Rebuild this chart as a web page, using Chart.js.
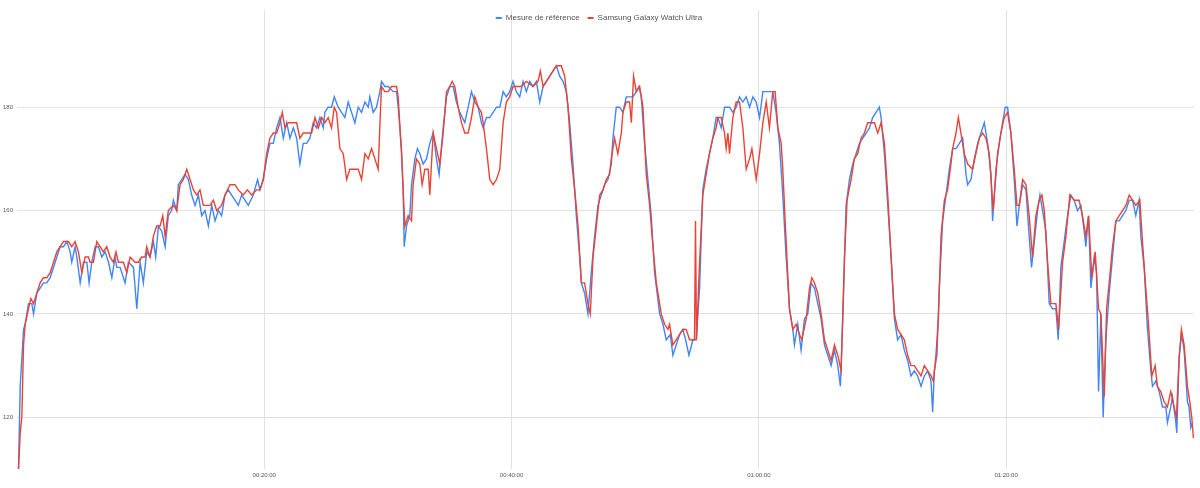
<!DOCTYPE html>
<html>
<head>
<meta charset="utf-8">
<script src="https://cdn.jsdelivr.net/npm/chart.js@4.4.1/dist/chart.umd.min.js"></script>
<style>
  html, body { margin: 0; padding: 0; background: #fff; }
  #wrap { width: 1200px; height: 488px; }
</style>
</head>
<body>
<div id="wrap"><canvas id="hrChart" width="1200" height="488"></canvas></div>
<script>
// Series names
const seriesNames = ['Mesure de référence', 'Samsung Galaxy Watch Ultra'];

// Axis ticks (x in minutes)
const xTickValues = [20, 40, 60, 80];
const xTickLabels = ['00:20:00', '00:40:00', '01:00:00', '01:20:00'];
const yTickValues = [120, 140, 160, 180];

// Reference measurement (time in minutes, bpm)
const blueTimes = [0.12,0.26,0.53,0.66,0.93,1.20,1.34,1.60,1.87,2.14,2.41,2.68,2.95,3.22,3.49,3.76,4.03,4.30,4.43,4.70,4.84,5.11,5.38,5.65,5.83,6.05,6.32,6.59,6.86,7.13,7.40,7.67,7.93,8.07,8.34,8.74,9.01,9.42,9.69,9.96,10.22,10.49,10.76,11.03,11.22,11.44,11.71,11.98,12.24,12.51,12.65,12.92,13.05,13.32,13.59,13.86,14.13,14.40,14.67,14.94,15.21,15.48,15.75,16.02,16.29,16.55,16.82,17.09,17.36,17.63,17.90,18.17,18.44,18.71,19.11,19.46,19.65,19.92,20.19,20.46,20.73,21.00,21.27,21.54,21.81,22.08,22.35,22.62,22.88,23.15,23.42,23.69,23.96,24.23,24.50,24.77,24.90,25.17,25.44,25.66,25.98,26.25,26.52,26.79,27.06,27.33,27.60,27.87,28.14,28.41,28.54,28.81,29.08,29.35,29.48,29.75,30.02,30.43,30.70,30.83,31.10,31.23,31.32,31.50,31.77,31.91,32.18,32.39,32.58,32.85,33.12,33.39,33.66,33.93,34.14,34.47,34.74,35.01,35.28,35.54,35.81,36.22,36.49,36.76,37.03,37.30,37.56,37.70,37.97,38.24,38.51,38.78,39.05,39.32,39.58,39.85,40.12,40.39,40.66,40.93,41.20,41.47,41.74,42.01,42.28,42.55,42.82,43.09,43.36,43.63,43.89,44.16,44.43,44.70,44.97,45.24,45.51,45.65,45.91,46.18,46.45,46.72,46.99,47.26,47.53,47.80,48.07,48.20,48.47,48.74,49.01,49.28,49.55,49.82,50.09,50.31,50.49,50.76,51.03,51.30,51.57,51.98,52.25,52.51,52.84,53.05,53.32,53.59,53.86,54.08,54.35,54.67,54.94,55.21,55.47,55.74,56.01,56.28,56.55,56.69,56.96,57.23,57.63,57.90,58.17,58.44,58.71,58.98,59.25,59.52,59.79,60.06,60.33,60.60,60.86,61.13,61.40,61.67,61.94,62.21,62.48,62.75,62.88,63.15,63.42,63.69,63.96,64.23,64.50,64.77,65.04,65.31,65.58,65.85,66.12,66.39,66.60,66.79,67.06,67.33,67.60,67.87,68.14,68.41,68.68,68.95,69.21,69.48,69.75,69.89,70.16,70.43,70.70,70.97,71.23,71.50,71.77,72.04,72.31,72.58,72.85,73.12,73.39,73.66,73.93,74.06,74.20,74.41,74.60,74.87,75.14,75.41,75.68,75.95,76.22,76.49,76.76,76.89,77.16,77.43,77.70,77.97,78.24,78.51,78.78,78.91,79.18,79.45,79.72,79.93,80.12,80.39,80.66,80.88,81.07,81.34,81.61,81.87,82.06,82.28,82.55,82.74,82.95,83.22,83.49,83.76,84.03,84.22,84.43,84.70,84.97,85.24,85.51,85.78,86.05,86.32,86.45,86.67,86.86,87.13,87.32,87.48,87.67,87.85,88.07,88.34,88.61,88.88,89.15,89.42,89.69,89.96,90.23,90.49,90.76,90.90,91.17,91.44,91.71,91.84,92.11,92.38,92.65,92.92,93.05,93.32,93.46,93.73,93.81,94.00,94.19,94.40,94.67,94.80,94.94,95.07];
const blueValues = [110,126,137,138,142,142,140,144,145,146,146,147,149,151,153,153,154,152,150,153,151,146,150,150,146,150,153,153,151,152,150,147,151,149,149,146,150,149,141,150,146,152,151,154,151,157,156,153,159,160,162,160,165,166,167,166,163,161,163,159,160,157,161,158,160,159,163,164,163,162,161,163,162,161,163,166,164,166,170,173,173,176,178,174,177,174,176,174,169,173,173,174,177,176,178,176,179,180,180,182,180,179,178,181,179,177,180,179,181,180,182,179,180,183,185,184,184,183,183,180,172,164,153,157,159,165,170,172,171,169,170,173,175,170,167,176,182,184,184,181,179,177,180,183,181,180,177,176,178,178,179,180,180,183,182,183,185,183,182,185,183,185,184,185,181,184,185,186,187,188,186,185,183,177,169,159,151,146,144,140,148,155,161,163,165,166,169,174,180,180,179,182,182,182,183,184,182,173,166,159,148,140,138,135,136,132,134,136,137,135,132,135,135,145,164,168,171,174,178,178,176,180,180,179,180,182,181,182,180,182,181,178,183,183,183,183,179,173,163,151,141,137,134,138,133,139,140,146,145,142,139,134,132,130,133,130,126,139,161,166,169,171,173,174,175,176,178,179,180,178,171,161,151,139,135,136,133,131,128,129,128,126,128,129,127,121,129,132,145,158,163,168,172,172,173,174,167,165,166,170,173,175,177,173,167,158,168,173,177,180,180,175,166,157,161,165,164,155,149,154,160,163,160,156,142,141,141,135,149,154,159,163,162,160,161,156,153,159,145,151,148,125,140,120,135,144,151,158,158,159,160,162,162,159,162,155,149,137,129,126,127,125,122,122,119,122,124,119,117,132,136,133,123,122,118,119];

// Samsung Galaxy Watch Ultra (time in minutes, bpm)
const redTimes = [0.12,0.26,0.39,0.53,0.66,0.93,1.12,1.34,1.60,1.87,2.14,2.41,2.68,2.82,3.22,3.49,3.76,4.16,4.43,4.70,4.97,5.24,5.51,5.78,5.91,6.18,6.45,6.72,6.99,7.26,7.53,7.80,8.01,8.20,8.61,8.88,9.15,9.55,9.82,10.09,10.36,10.49,10.76,11.03,11.30,11.57,11.79,11.98,12.24,12.65,12.92,13.19,13.46,13.73,14.00,14.27,14.54,14.80,15.07,15.61,15.88,16.15,16.55,16.82,17.23,17.63,17.90,18.30,18.63,18.98,19.38,19.65,19.92,20.19,20.46,20.73,21.00,21.27,21.46,21.67,21.94,22.35,22.62,22.88,23.15,23.42,23.83,24.10,24.37,24.64,24.90,25.17,25.44,25.66,25.85,26.12,26.39,26.66,26.92,27.19,27.60,27.87,28.14,28.41,28.68,28.95,29.21,29.48,29.75,30.02,30.29,30.70,30.83,31.10,31.37,31.64,31.91,32.04,32.31,32.58,32.77,32.99,33.26,33.39,33.66,33.93,34.20,34.47,34.74,35.01,35.20,35.41,35.68,35.95,36.22,36.49,36.76,37.03,37.30,37.56,37.70,37.97,38.24,38.51,38.78,39.05,39.32,39.58,39.85,40.12,40.53,40.80,41.20,41.74,42.14,42.33,42.55,42.82,43.09,43.36,43.63,44.03,44.30,44.57,44.84,45.11,45.38,45.65,45.91,46.18,46.37,46.59,46.86,47.13,47.40,47.66,47.93,48.07,48.33,48.60,48.88,49.01,49.28,49.55,49.69,49.87,50.09,50.36,50.63,50.90,51.17,51.44,51.71,52.11,52.38,52.65,52.78,53.05,53.32,53.59,53.86,54.13,54.40,54.80,54.88,54.96,55.21,55.47,55.74,56.01,56.28,56.55,56.69,56.96,57.23,57.36,57.50,57.63,57.90,58.17,58.44,58.71,58.98,59.25,59.44,59.79,60.06,60.33,60.60,60.86,61.13,61.32,61.54,61.81,61.94,62.21,62.48,62.75,63.02,63.29,63.48,63.83,64.10,64.29,64.50,64.77,65.04,65.31,65.58,65.85,66.12,66.39,66.66,66.93,67.14,67.46,67.73,68.00,68.27,68.54,68.81,69.08,69.35,69.62,69.89,70.16,70.43,70.70,70.97,71.23,71.50,71.77,72.04,72.31,72.58,72.85,73.12,73.39,73.66,73.93,74.12,74.33,74.52,74.74,75.01,75.27,75.54,75.68,75.95,76.14,76.35,76.62,76.89,77.29,77.56,77.83,78.10,78.37,78.64,78.96,79.31,79.58,79.85,80.12,80.39,80.66,80.88,81.07,81.34,81.61,81.87,82.14,82.41,82.68,82.90,83.09,83.36,83.62,84.03,84.25,84.57,84.84,85.16,85.51,85.91,86.18,86.45,86.67,86.94,87.21,87.48,87.67,87.94,88.13,88.34,88.61,88.88,89.15,89.42,89.69,89.96,90.23,90.49,90.82,91.03,91.30,91.52,91.79,92.06,92.24,92.51,92.78,93.05,93.32,93.59,93.78,93.99,94.18,94.40,94.67,94.86,95.02,95.15];
const redValues = [110,117,120,134,138,141,143,142,144,146,147,147,148,149,152,153,154,154,153,154,152,148,151,151,150,150,154,153,152,153,151,150,152,150,150,148,151,150,150,151,151,153,151,155,157,157,159,155,160,161,160,165,166,168,166,164,163,164,161,161,162,160,161,163,165,165,164,163,164,163,164,164,166,171,174,175,175,177,179,176,177,177,177,174,175,175,175,178,176,178,177,178,176,180,179,172,171,166,168,168,168,166,171,170,172,170,168,184,183,183,184,184,182,171,157,159,158,165,170,169,165,168,168,163,175,172,169,175,183,184,185,184,180,177,175,175,178,182,180,179,177,172,166,165,166,168,177,181,182,184,184,184,185,184,185,187,184,185,186,187,188,188,186,180,170,164,157,146,146,142,140,151,157,163,164,166,167,170,174,171,175,179,181,181,177,186,183,184,180,167,161,153,146,140,138,137,138,134,135,136,137,137,135,135,158,135,150,163,167,171,174,176,178,178,175,172,175,171,178,181,181,176,168,170,172,166,171,177,181,176,183,183,176,173,168,154,141,137,138,136,135,139,145,147,146,144,140,135,133,131,134,132,129,151,162,166,170,171,174,175,177,177,177,175,177,173,163,151,140,137,136,135,132,130,130,129,128,130,129,128,127,132,139,155,162,164,169,172,175,178,175,171,169,168,171,174,175,174,171,160,171,175,178,179,175,168,161,161,166,165,159,151,159,162,163,160,150,142,142,137,150,155,163,162,162,159,155,159,147,152,141,140,124,141,146,153,158,159,160,161,163,162,161,162,154,145,138,128,130,126,125,123,122,125,122,120,131,137,134,126,123,120,116];

const toPoints = (times, values) => times.map((t, i) => ({ x: t, y: values[i] }));

const labelFont = 'Arial, "Liberation Sans", sans-serif';

// Legend drawn on top of the plot area, like the original
const topLegend = {
    id: 'topLegend',
    afterDraw(chart) {
        const ctx = chart.ctx;
        const colors = chart.data.datasets.map(d => d.borderColor);
        ctx.save();
        ctx.font = '8px ' + labelFont;
        ctx.textBaseline = 'middle';
        const dash = 6, gap = 4, sep = 8;
        const widths = seriesNames.map(n => ctx.measureText(n).width);
        const total = widths.reduce((a, w) => a + dash + gap + w, 0) + sep * (seriesNames.length - 1);
        let x = chart.width / 2 - total / 2 - 1;
        const y = 18;
        seriesNames.forEach((name, i) => {
            ctx.fillStyle = colors[i];
            ctx.fillRect(x, y - 1, dash, 2);
            x += dash + gap;
            ctx.fillStyle = '#555';
            ctx.fillText(name, x, y);
            x += widths[i] + sep;
        });
        ctx.restore();
    }
};

const ctx = document.getElementById('hrChart').getContext('2d');
const hrChart = new Chart(ctx, {
    type: 'line',
    data: {
        datasets: [
            {
                label: seriesNames[0],
                data: toPoints(blueTimes, blueValues),
                borderColor: '#4285F4',
                borderWidth: 1.4,
                pointRadius: 0,
                tension: 0,
                order: 1
            },
            {
                label: seriesNames[1],
                data: toPoints(redTimes, redValues),
                borderColor: '#EA4335',
                borderWidth: 1.4,
                pointRadius: 0,
                tension: 0,
                order: 0
            }
        ]
    },
    options: {
        responsive: false,
        animation: false,
        devicePixelRatio: 1,
        layout: { padding: { top: 10, right: 6, left: 0, bottom: 0 } },
        plugins: {
            legend: { display: false },
            tooltip: { enabled: false }
        },
        scales: {
            x: {
                type: 'linear',
                min: 0,
                max: 95.2,
                afterBuildTicks: axis => { axis.ticks = xTickValues.map(v => ({ value: v })); },
                afterFit: scale => { scale.height = 19; },
                ticks: {
                    autoSkip: false,
                    maxRotation: 0,
                    padding: 3,
                    color: '#555',
                    font: { size: 6, family: labelFont },
                    callback: v => xTickLabels[xTickValues.indexOf(v)]
                },
                grid: { color: '#e2e2e2', drawTicks: false },
                border: { display: false }
            },
            y: {
                min: 110,
                max: 198.8,
                afterBuildTicks: axis => { axis.ticks = yTickValues.map(v => ({ value: v })); },
                afterFit: scale => { scale.width = 17; },
                ticks: {
                    padding: 4,
                    color: '#555',
                    font: { size: 6, family: labelFont }
                },
                grid: { color: '#e2e2e2', drawTicks: false },
                border: { display: false }
            }
        }
    },
    plugins: [topLegend]
});
</script>
</body>
</html>
